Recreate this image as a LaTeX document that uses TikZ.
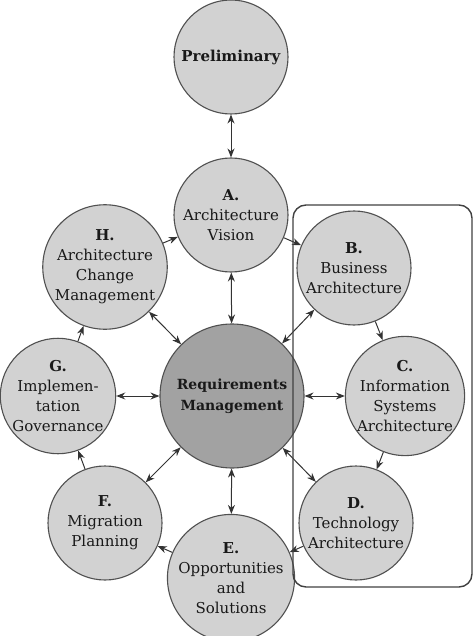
\documentclass[tikz,border=0pt]{standalone}
\usepackage{fontspec}
\setmainfont{DejaVu Serif}
\usetikzlibrary{arrows.meta}
\definecolor{phasefill}{RGB}{210,210,210}
\definecolor{reqfill}{RGB}{162,162,162}
\definecolor{rim}{RGB}{80,80,80}
\begin{document}
\begin{tikzpicture}[x=1pt, y=-1pt,
    phase/.style = {draw=rim, line width=1.1pt, circle, fill=phasefill, minimum size=114pt, inner sep=0pt, align=center, text=black!90, font=\fontsize{15}{20}\selectfont},
    link/.style = {draw=black!80, line width=1pt},
    >={Stealth[length=9pt,width=7pt]}]
        \useasboundingbox (0,0) rectangle (474,636);
        \node[phase, fill=reqfill, minimum size=144pt, font=\fontsize{14}{21}\selectfont] (R) at (232,396) {\textbf{Requirements}\\\textbf{Management}};
        \node[phase] (P) at (231,57) {\textbf{Preliminary}};
        \node[phase] (A) at (231,215) {\textbf{A.}\\Architecture\\Vision};
        \node[phase] (B) at (354,268) {\textbf{B.}\\Business\\Architecture};
        \node[phase] (C) at (405,396) {\textbf{C.}\\Information\\Systems\\Architecture};
        \node[phase] (D) at (356,523) {\textbf{D.}\\Technology\\Architecture};
        \node[phase] (E) at (231,578) {\textbf{E.}\\Opportunities\\and\\Solutions};
        \node[phase] (F) at (105,523) {\textbf{F.}\\Migration\\Planning};
        \node[phase] (G) at (58,396) {\textbf{G.}\\Implemen-\\tation\\Governance};
        \node[phase] (H) at (105,267) {\textbf{H.}\\Architecture\\Change\\Management};
        %
        \draw[link, <->] (P) -- (A);
        \foreach \n in {A,B,C,D,E,F,G,H}
            \draw[link, <->] (R) -- (\n);
        \draw[link, ->] (A) -- (B);
        \draw[link, ->] (B) -- (C);
        \draw[link, ->] (C) -- (D);
        \draw[link, ->] (D) -- (E);
        \draw[link, ->] (E) -- (F);
        \draw[link, ->] (F) -- (G);
        \draw[link, ->] (G) -- (H);
        \draw[link, ->] (H) -- (A);
        %
        \draw[draw=black!75, line width=1.4pt, rounded corners=13pt] (293,205) rectangle (472,587);
\end{tikzpicture}
\end{document}
